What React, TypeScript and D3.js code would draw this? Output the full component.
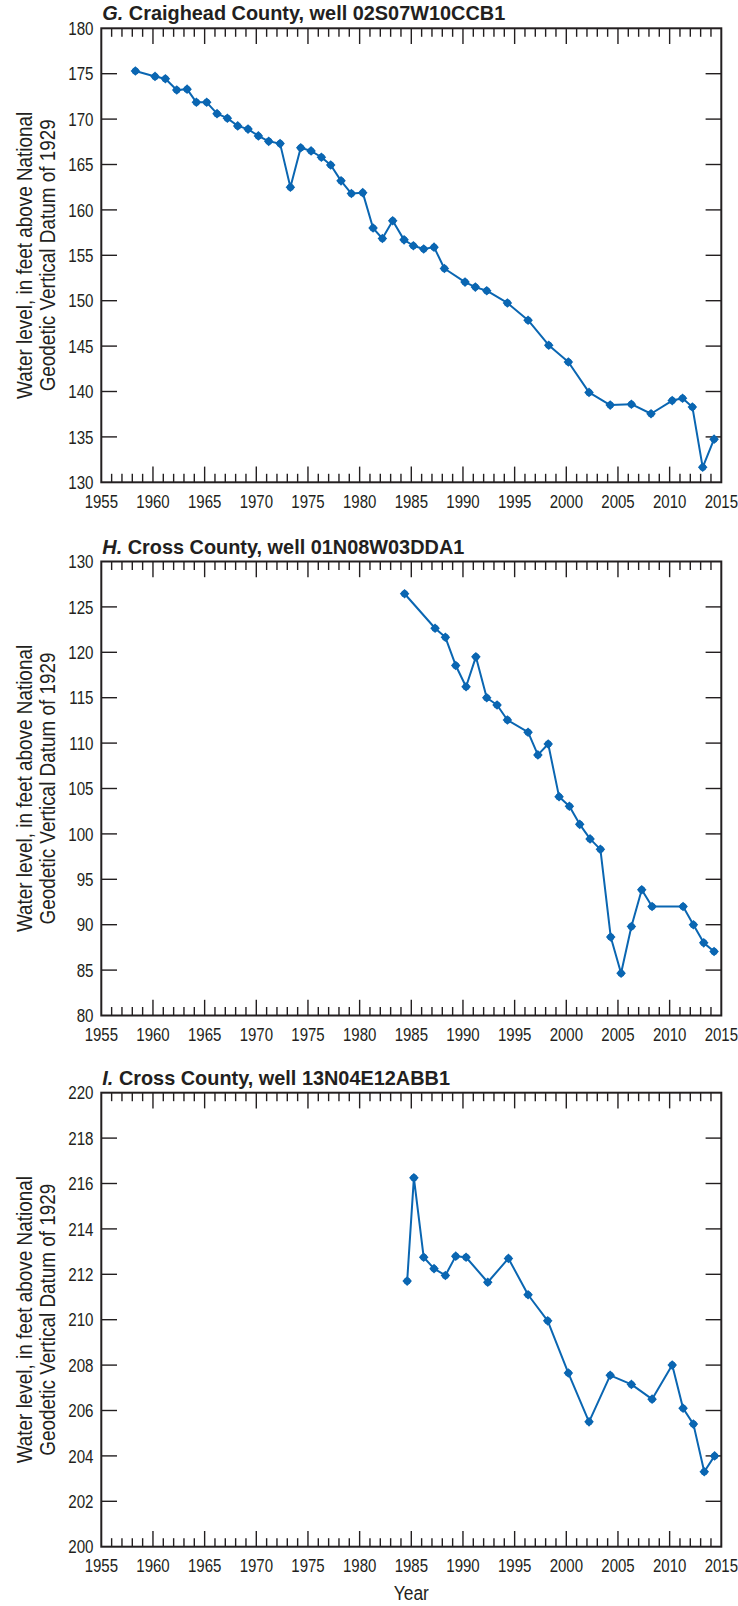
import React from "react";
import * as d3 from "d3";

// Panel G: Craighead County, well 02S07W10CCB1
const gYears = [1958.3, 1960.2, 1961.2, 1962.3, 1963.3, 1964.2, 1965.2, 1966.2, 1967.2, 1968.2, 1969.2, 1970.2, 1971.2, 1972.3, 1973.3, 1974.3, 1975.3, 1976.3, 1977.2, 1978.2, 1979.2, 1980.3, 1981.3, 1982.2, 1983.2, 1984.3, 1985.2, 1986.2, 1987.2, 1988.2, 1990.2, 1991.2, 1992.3, 1994.3, 1996.3, 1998.3, 2000.2, 2002.2, 2004.25, 2006.3, 2008.2, 2010.25, 2011.25, 2012.2, 2013.2, 2014.3];
const gLevels = [175.3, 174.7, 174.45, 173.2, 173.3, 171.85, 171.85, 170.6, 170.1, 169.25, 168.9, 168.15, 167.55, 167.3, 162.5, 166.85, 166.5, 165.8, 164.95, 163.2, 161.8, 161.9, 158.0, 156.85, 158.8, 156.7, 156.05, 155.7, 155.9, 153.55, 152.05, 151.5, 151.1, 149.75, 147.85, 145.1, 143.25, 139.9, 138.5, 138.6, 137.55, 139.0, 139.25, 138.3, 131.65, 134.75];
const gTicks = [130, 135, 140, 145, 150, 155, 160, 165, 170, 175, 180];

// Panel H: Cross County, well 01N08W03DDA1
const hYears = [1984.35, 1987.3, 1988.3, 1989.3, 1990.3, 1991.25, 1992.3, 1993.3, 1994.3, 1996.3, 1997.25, 1998.25, 1999.3, 2000.3, 2001.3, 2002.3, 2003.3, 2004.3, 2005.3, 2006.3, 2007.3, 2008.3, 2011.3, 2012.3, 2013.3, 2014.3];
const hLevels = [126.45, 122.65, 121.65, 118.55, 116.2, 119.5, 115.0, 114.2, 112.55, 111.2, 108.7, 109.9, 104.1, 103.05, 101.05, 99.45, 98.3, 88.65, 84.65, 89.8, 93.85, 92.0, 92.0, 90.0, 88.0, 87.05];
const hTicks = [80, 85, 90, 95, 100, 105, 110, 115, 120, 125, 130];

// Panel I: Cross County, well 13N04E12ABB1
const iYears = [1984.6, 1985.25, 1986.2, 1987.2, 1988.3, 1989.3, 1990.3, 1992.4, 1994.4, 1996.3, 1998.2, 2000.2, 2002.2, 2004.25, 2006.3, 2008.3, 2010.25, 2011.3, 2012.3, 2013.35, 2014.35];
const iLevels = [211.7, 216.25, 212.75, 212.25, 211.95, 212.8, 212.75, 211.65, 212.7, 211.1, 209.95, 207.65, 205.5, 207.55, 207.15, 206.5, 208.0, 206.1, 205.4, 203.3, 204.0];
const iTicks = [200, 202, 204, 206, 208, 210, 212, 214, 216, 218, 220];

const yearTicks = [1955, 1960, 1965, 1970, 1975, 1980, 1985, 1990, 1995, 2000, 2005, 2010, 2015];
const yearMinor = d3.range(1956, 2015);

const yLabelLine1 = "Water level, in feet above National";
const yLabelLine2 = "Geodetic Vertical Datum of 1929";

const panels = [
  { letter: "G.", title: " Craighead County, well 02S07W10CCB1", years: gYears, levels: gLevels, ticks: gTicks, top: 28.3 },
  { letter: "H.", title: " Cross County, well 01N08W03DDA1", years: hYears, levels: hLevels, ticks: hTicks, top: 561.5 },
  { letter: "I.", title: " Cross County, well 13N04E12ABB1", years: iYears, levels: iLevels, ticks: iTicks, top: 1092.7 },
];

const W = 738;
const H = 1606;
const left = 101.3;
const right = 721.3;
const plotH = 454;
const ink = "#231f20";
const blue = "#0a66b2";
const font = "'Liberation Sans', Arial, sans-serif";

// Condensed text: regular sans squeezed horizontally about its anchor point.
function CText({
  x,
  y,
  k = 0.82,
  rotate = 0,
  children,
  ...rest
}: {
  x: number;
  y: number;
  k?: number;
  rotate?: number;
  children: React.ReactNode;
  [key: string]: any;
}) {
  return (
    <g transform={`translate(${x},${y}) rotate(${rotate}) scale(${k},1)`}>
      <text x={0} y={0} fontFamily={font} fill={ink} {...rest}>
        {children}
      </text>
    </g>
  );
}

function Panel({ p, last }: { p: typeof panels[number]; last: boolean }) {
  const x = d3.scaleLinear().domain([1955, 2015]).range([left, right]);
  const y = d3
    .scaleLinear()
    .domain([p.ticks[0], p.ticks[p.ticks.length - 1]])
    .range([p.top + plotH, p.top]);
  const line = d3
    .line<number>()
    .x((_, i) => x(p.years[i]))
    .y((d) => y(d));
  const bottom = p.top + plotH;
  const midY = p.top + plotH / 2;
  const major = 15.7;
  const minor = 8.5;
  return (
    <g>
      <CText x={left + 1} y={p.top - 8} k={1.02} fontSize={19.5} fontWeight="bold">
        <tspan fontStyle="italic">{p.letter}</tspan>
        <tspan>{p.title}</tspan>
      </CText>
      {/* year ticks top and bottom */}
      {yearMinor.map((yr) => {
        const len = yr % 5 === 0 ? major : minor;
        return (
          <g key={yr} stroke={ink} strokeWidth={1.4}>
            <line x1={x(yr)} x2={x(yr)} y1={p.top} y2={p.top + len} />
            <line x1={x(yr)} x2={x(yr)} y1={bottom} y2={bottom - len} />
          </g>
        );
      })}
      {/* level ticks left and right */}
      {p.ticks.slice(1, -1).map((t) => (
        <g key={t} stroke={ink} strokeWidth={1.4}>
          <line x1={left} x2={left + major} y1={y(t)} y2={y(t)} />
          <line x1={right} x2={right - major} y1={y(t)} y2={y(t)} />
        </g>
      ))}
      {p.ticks.map((t) => (
        <CText key={t} x={93.5} y={y(t)} dy="0.36em" textAnchor="end" fontSize={18.5}>
          {t}
        </CText>
      ))}
      {yearTicks.map((yr) => (
        <CText key={yr} x={x(yr)} y={bottom + 25.5} textAnchor="middle" fontSize={18.3}>
          {yr}
        </CText>
      ))}
      <rect x={left} y={p.top} width={right - left} height={plotH} fill="none" stroke={ink} strokeWidth={2} />
      <CText x={31.7} y={midY} rotate={-90} k={0.86} textAnchor="middle" fontSize={22}>
        {yLabelLine1}
      </CText>
      <CText x={55} y={midY} rotate={-90} k={0.86} textAnchor="middle" fontSize={22}>
        {yLabelLine2}
      </CText>
      <path d={line(p.levels) || ""} fill="none" stroke={blue} strokeWidth={2} strokeLinejoin="round" />
      {p.levels.map((v, i) => {
        const cx = x(p.years[i]);
        const cy = y(v);
        const s = 4.8;
        return (
          <g key={i} fill={blue}>
            <circle cx={cx} cy={cy} r={3.5} />
            <path d={`M${cx},${cy - s}L${cx + s},${cy}L${cx},${cy + s}L${cx - s},${cy}Z`} />
          </g>
        );
      })}
      {last && (
        <CText x={(left + right) / 2} y={bottom + 53} k={0.83} textAnchor="middle" fontSize={21}>
          Year
        </CText>
      )}
    </g>
  );
}

export default function App() {
  return (
    <div style={{ position: "absolute", left: 0, top: 0 }}>
      <svg width={W} height={H} style={{ display: "block", background: "#fff" }}>
        {panels.map((p, i) => (
          <Panel key={p.letter} p={p} last={i === panels.length - 1} />
        ))}
      </svg>
    </div>
  );
}
